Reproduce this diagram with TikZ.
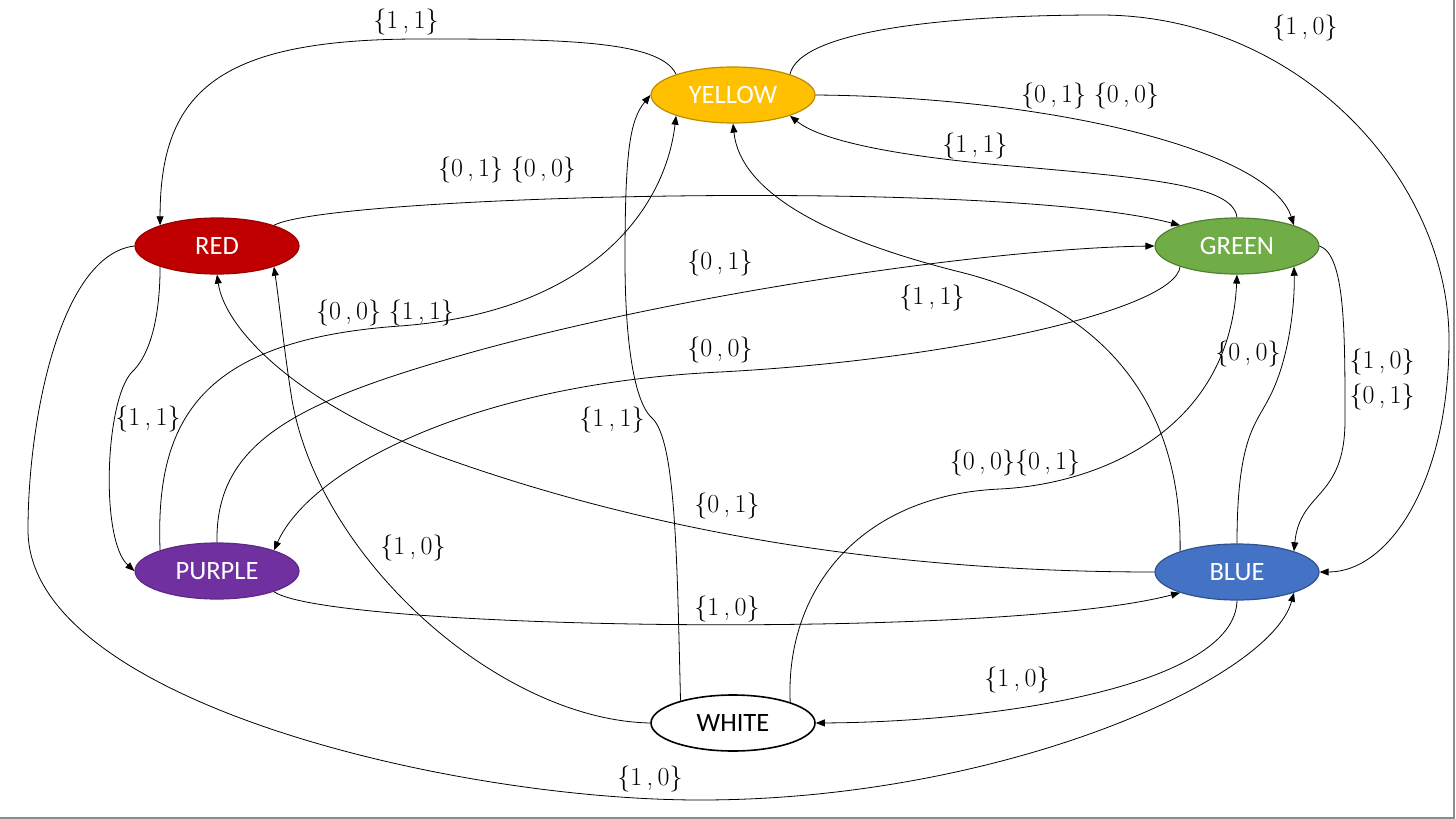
\documentclass[tikz,border=0pt]{standalone}
\usepackage{fontspec}
\newfontfamily\nodefont{Carlito}
\usetikzlibrary{shapes.geometric,arrows.meta}
\definecolor{cyellow}{HTML}{FFC000}
\definecolor{cyellowb}{HTML}{BC8C00}
\definecolor{cred}{HTML}{C00000}
\definecolor{credb}{HTML}{9A0000}
\definecolor{cgreen}{HTML}{70AD47}
\definecolor{cgreenb}{HTML}{507E32}
\definecolor{cpurple}{HTML}{7030A0}
\definecolor{cpurpleb}{HTML}{5E2888}
\definecolor{cblue}{HTML}{4472C4}
\definecolor{cblueb}{HTML}{2F528F}
\definecolor{cframe}{HTML}{8C8C8C}
\tikzset{
  state/.style={ellipse, minimum width=164pt, minimum height=56pt, inner sep=0pt,
    line width=1.2pt, font=\nodefont\fontsize{26.5}{30}\selectfont, text=white},
  edge/.style={line width=0.8pt, -{Triangle[length=9pt,width=7pt]}},
  lab/.style={font=\fontsize{26}{30}\selectfont, inner sep=1pt}
}
\newcommand{\pr}[2]{\{#1\,,\,#2\}}
\begin{document}
\begin{tikzpicture}[x=1pt,y=-1pt]
\useasboundingbox (0,0) rectangle (1456,819);
\fill[white] (0,0) rectangle (1456,819);
\draw[cframe, line width=2.5pt] (1454,0) -- (1454,818) -- (0,818);

% states
\node[state, fill=cyellow, draw=cyellowb] (Y) at (733,95) {YELLOW};
\node[state, fill=cred, draw=credb] (R) at (217,246) {RED};
\node[state, fill=cgreen, draw=cgreenb] (G) at (1237,246) {GREEN};
\node[state, fill=cpurple, draw=cpurpleb] (P) at (217,571) {PURPLE};
\node[state, fill=cblue, draw=cblueb] (B) at (1237,572) {BLUE};
\node[state, fill=white, draw=black, line width=1.6pt, text=black] (W) at (733,723) {WHITE};

% connectors
\draw[edge] (Y.160) .. controls (660,40) and (560,39) .. (420,39) .. controls (220,39) and (160,90) .. (R.160);
\draw[edge] (Y.20) .. controls (800,30) and (950,15) .. (1100,15) .. controls (1300,15) and (1449,180) .. (1449,340) .. controls (1449,480) and (1390,572) .. (B.east);
\draw[edge] (Y.east) .. controls (1050,97) and (1270,150) .. (G.20);
\draw[edge] (G.north) .. controls (1233,185) and (1150,178) .. (1000,165) .. controls (890,155) and (820,140) .. (Y.-20);
\draw[edge] (R.20) .. controls (330,195) and (1000,178) .. (G.160);
\draw[edge] (R.200) .. controls (160,330) and (145,360) .. (132,372) .. controls (105,400) and (100,540) .. (P.west);
\draw[edge] (R.west) .. controls (60,255) and (28,420) .. (28,530) .. controls (28,700) and (450,800) .. (700,800) .. controls (1000,800) and (1270,680) .. (B.-20);
\draw[edge] (P.160) .. controls (155,420) and (200,340) .. (400,326) .. controls (590,312) and (665,210) .. (Y.200);
\draw[edge] (P.north) .. controls (215,440) and (300,400) .. (480,350) .. controls (700,290) and (1000,248) .. (G.west);
\draw[edge] (G.200) .. controls (1175,310) and (950,360) .. (720,372) .. controls (470,384) and (310,470) .. (P.20);
\draw[edge] (P.-20) .. controls (330,630) and (1000,640) .. (B.200);
\draw[edge] (G.east) .. controls (1345,255) and (1345,330) .. (1345,420) .. controls (1345,500) and (1300,490) .. (B.20);
\draw[edge] (B.north) .. controls (1237,440) and (1255,425) .. (1268,400) .. controls (1290,360) and (1295,300) .. (G.-20);
\draw[edge] (B.160) .. controls (1182,420) and (1120,312) .. (960,272) .. controls (820,237) and (740,190) .. (Y.south);
\draw[edge] (B.west) .. controls (850,572) and (620,520) .. (450,460) .. controls (300,407) and (225,330) .. (R.south);
\draw[edge] (B.south) .. controls (1235,685) and (1000,722) .. (W.east);
\draw[edge] (W.157) .. controls (677,560) and (676,440) .. (652,418) .. controls (632,400) and (625,330) .. (625,260) .. controls (625,150) and (630,120) .. (Y.west);
\draw[edge] (W.west) .. controls (500,720) and (320,560) .. (292,400) .. controls (284,350) and (279,300) .. (R.-20);
\draw[edge] (W.20) .. controls (785,590) and (860,495) .. (1000,489) .. controls (1100,484) and (1230,430) .. (G.south);

% labels
\node[lab] (l1) at (406,22) {\pr11};
\node[lab] (l2) at (1305,28) {\pr10};
\node[lab] (l3) at (1090,96) {\pr01 \pr00};
\node[lab] (l4) at (975,146) {\pr11};
\node[lab] (l5) at (507,170) {\pr01 \pr00};
\node[lab] (l6) at (148,419) {\pr11};
\node[lab] (l7) at (650,779) {\pr10};
\node[lab] (l8) at (385,313) {\pr00 \pr11};
\node[lab] (l9) at (720,263) {\pr01};
\node[lab] (l10) at (720,350) {\pr00};
\node[lab] (l11) at (727,609) {\pr10};
\node[lab] (l12) at (1382,362) {\pr10};
\node[lab] (l13) at (1382,397) {\pr01};
\node[lab] (l14) at (1248,354) {\pr00};
\node[lab] (l15) at (932,298) {\pr11};
\node[lab] (l16) at (727,506) {\pr01};
\node[lab] (l17) at (1017,680) {\pr10};
\node[lab] (l18) at (612,420) {\pr11};
\node[lab] (l19) at (413,548) {\pr10};
\node[lab] (l20) at (1015,463) {\pr00\pr01};
\end{tikzpicture}
\end{document}
